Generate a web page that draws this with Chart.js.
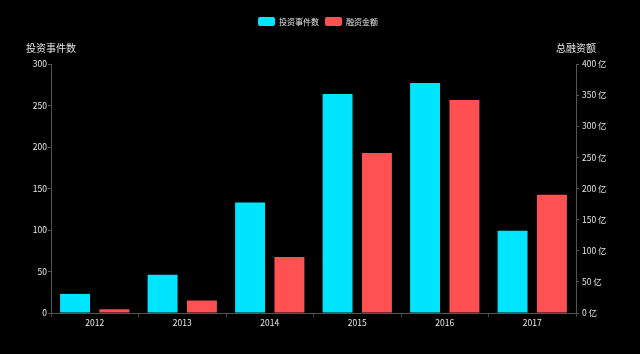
<!DOCTYPE html>
<html>
<head>
<meta charset="utf-8">
<script src="https://cdn.jsdelivr.net/npm/chart.js@4/dist/chart.umd.min.js"></script>
<style>
  html, body { margin: 0; padding: 0; background: #000; }
  #wrap { width: 640px; height: 354px; }
</style>
</head>
<body>
<div id="wrap"><canvas id="myChart" width="640" height="354"></canvas></div>
<script>
var years = ['2012', '2013', '2014', '2015', '2016', '2017'];
var dealCounts = [23, 46, 133, 264, 277, 99];
var fundingYi = [6, 20, 90, 257, 342, 190];
var leftTitle = '投资事件数';
var rightTitle = '总融资额';

var font = '"Noto Sans CJK SC", "Noto Sans", sans-serif';

// axis titles sit above the axes, not rotated
var axisTitles = {
    id: 'axisTitles',
    beforeInit: function (chart) {
        var fit = chart.legend.fit;
        chart.legend.fit = function () {
            fit.bind(chart.legend)();
            this.height = 53;
        };
    },
    afterDraw: function (chart) {
        var ctx = chart.ctx;
        var area = chart.chartArea;
        ctx.save();
        ctx.font = '10px ' + font;
        ctx.fillStyle = '#e6e6e6';
        ctx.textBaseline = 'middle';
        ctx.textAlign = 'center';
        ctx.fillText(leftTitle, area.left, 48);
        ctx.fillText(rightTitle, area.right, 48);
        ctx.restore();
    }
};

var ctx = document.getElementById('myChart').getContext('2d');
var currentChart = new Chart(ctx, {
    type: 'bar',
    data: {
        labels: years,
        datasets: [{
            label: '投资事件数',
            data: dealCounts,
            backgroundColor: '#00e5ff',
            yAxisID: 'y'
        }, {
            label: '融资金额',
            data: fundingYi,
            backgroundColor: '#ff5151',
            yAxisID: 'y1'
        }]
    },
    options: {
        responsive: false,
        animation: false,
        layout: { padding: { left: 18, right: 22, top: 11, bottom: 0 } },
        datasets: {
            bar: { categoryPercentage: 0.9, barPercentage: 0.76 }
        },
        plugins: {
            legend: {
                position: 'top',
                labels: {
                    color: '#e6e6e6',
                    font: { family: font, size: 8 },
                    boxWidth: 17,
                    boxHeight: 9,
                    padding: 6,
                    useBorderRadius: true,
                    borderRadius: 2
                }
            },
            tooltip: { enabled: false }
        },
        scales: {
            x: {
                afterFit: function (axis) { axis.height = 41; },
                grid: { display: true, drawOnChartArea: false, color: '#444', tickLength: 4 },
                border: { color: '#555' },
                ticks: { color: '#e6e6e6', font: { family: font, size: 8.5 }, padding: 1 }
            },
            y: {
                position: 'left',
                min: 0,
                max: 300,
                afterFit: function (axis) { axis.width = 33; },
                ticks: { stepSize: 50, color: '#e6e6e6', font: { family: font, size: 8.5 }, padding: 1 },
                grid: { drawOnChartArea: false, color: '#555', tickLength: 3 },
                border: { color: '#555' }
            },
            y1: {
                position: 'right',
                min: 0,
                max: 400,
                afterFit: function (axis) { axis.width = 42; },
                ticks: {
                    stepSize: 50,
                    color: '#e6e6e6',
                    font: { family: font, size: 8.5 },
                    padding: 3,
                    callback: function (v) { return v + ' 亿'; }
                },
                grid: { drawOnChartArea: false, color: '#555', tickLength: 3 },
                border: { color: '#555' }
            }
        }
    },
    plugins: [axisTitles]
});
</script>
</body>
</html>
